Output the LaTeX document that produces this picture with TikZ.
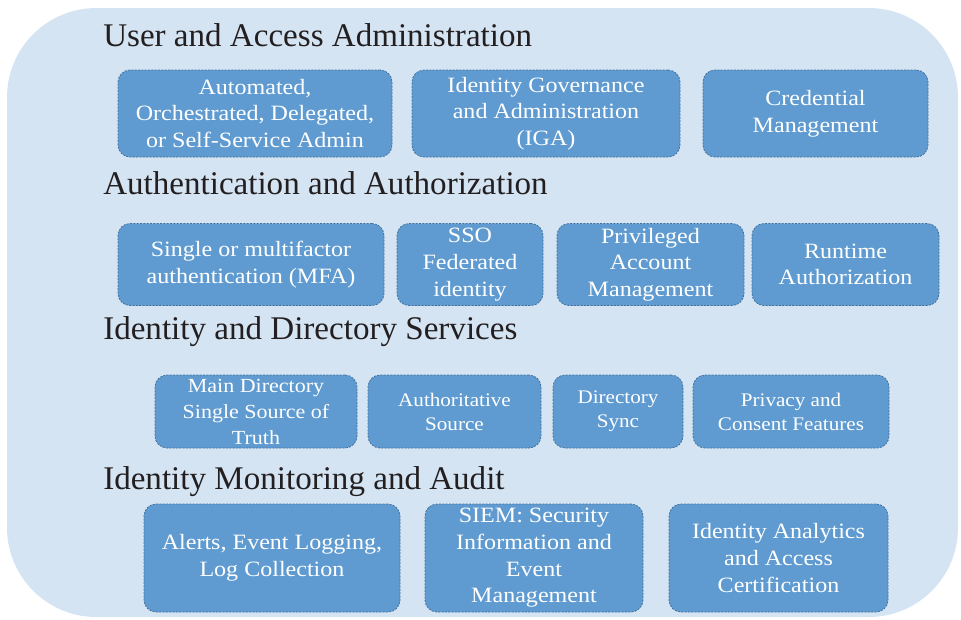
\documentclass[tikz,border=0pt]{standalone}
\usepackage{xcolor}
\usepackage{fontspec}
\setmainfont{Liberation Serif}
\newfontfamily\boxfont[FakeStretch=1.1]{Liberation Serif}
\usepackage{tikz}
\definecolor{paleblue}{RGB}{213,228,243}
\definecolor{boxblue}{RGB}{95,155,208}
\definecolor{edgeblue}{RGB}{65,113,156}
\definecolor{headink}{RGB}{35,31,32}

\begin{document}
\begin{tikzpicture}[
    x=0.75pt, y=-0.75pt,
    heading/.style={anchor=west, inner sep=0pt, text=headink, font=\fontsize{24.8}{28}\selectfont},
    feature/.style={draw=edgeblue, dashed, dash pattern=on 1.5pt off 1pt, line width=0.6pt, fill=boxblue, rounded corners=9pt,
        text=white, align=center, inner sep=0pt, font=\boxfont\fontsize{16.4}{20}\selectfont},
    small/.style={font=\boxfont\fontsize{14.4}{18}\selectfont}
]
\useasboundingbox (0,0) rectangle (961,619);
\fill[paleblue, rounded corners=67pt] (7,8) rectangle (958,617);

% headings
\node[heading] (h1) at (103,35) {User and Access Administration};
\node[heading] (h2) at (103,183) {Authentication and Authorization};
\node[heading] (h3) at (103,332) {Identity and Directory Services};
\node[heading] (h4) at (103,482) {Identity Monitoring and Audit};

% user and access administration
\node[feature, minimum width=205.5pt, minimum height=65.25pt] (uaa1) at (255,113.5) {Automated,\\Orchestrated, Delegated,\\or Self-Service Admin};
\node[feature, minimum width=201pt, minimum height=65.25pt] (uaa2) at (546,113.5) {Identity Governance\\and Administration\\(IGA)};
\node[feature, minimum width=168.75pt, minimum height=65.25pt] (uaa3) at (815.5,113.5) {Credential\\Management};

% authentication and authorization
\node[feature, minimum width=199.5pt, minimum height=61.5pt] (auth1) at (251,264.5) {Single or multifactor\\authentication (MFA)};
\node[feature, minimum width=109.5pt, minimum height=61.5pt] (auth2) at (470,264.5) {SSO\\Federated\\identity};
\node[feature, minimum width=140.25pt, minimum height=61.5pt] (auth3) at (650.5,264.5) {Privileged\\Account\\Management};
\node[feature, minimum width=140.25pt, minimum height=61.5pt] (auth4) at (845.5,264.5) {Runtime\\Authorization};

% identity and directory services
\node[feature, font=\boxfont\fontsize{15}{19.5}\selectfont, minimum width=151.5pt, minimum height=54.75pt] (dir1) at (256,411.5) {Main Directory\\Single Source of\\Truth};
\node[feature, small, minimum width=129.75pt, minimum height=54.75pt] (dir2) at (454.5,411.5) {Authoritative\\Source};
\node[feature, small, minimum width=97.5pt, minimum height=54.75pt] (dir3) at (618,411.5) {Directory\\Sync};
\node[feature, small, minimum width=147pt, minimum height=54.75pt] (dir4) at (791,411.5) {Privacy and\\Consent Features};

% identity monitoring and audit
\node[feature, minimum width=192pt, minimum height=81pt] (mon1) at (272,558) {Alerts, Event Logging,\\Log Collection};
\node[feature, minimum width=163.5pt, minimum height=81pt] (mon2) at (534,558) {SIEM: Security\\Information and\\Event\\Management};
\node[feature, minimum width=164.25pt, minimum height=81pt] (mon3) at (778.5,558) {Identity Analytics\\and Access\\Certification};

\end{tikzpicture}
\end{document}
